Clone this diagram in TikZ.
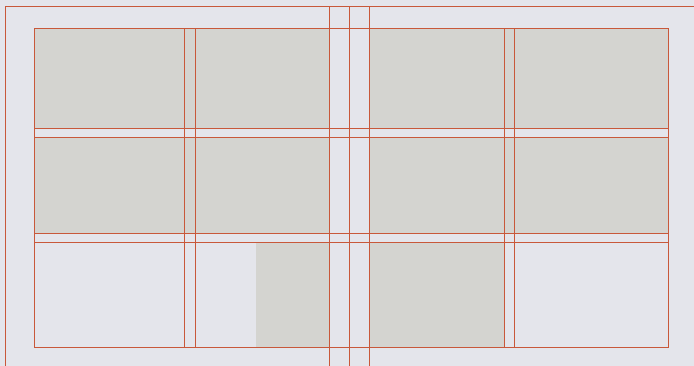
\documentclass[tikz,border=0pt]{standalone}
\definecolor{paper}{RGB}{228,229,235}
\definecolor{cellgray}{RGB}{212,212,208}
\definecolor{gridred}{RGB}{200,88,58}
\tikzset{
  linefill/.style={fill=gridred, draw=none},
  cell/.style={fill=cellgray, draw=none}
}
\begin{document}
\begin{tikzpicture}[x=1pt,y=-1pt]
\useasboundingbox (0,0) rectangle (694,366);
\fill[paper] (0,0) rectangle (694,366);
% gray cells
\fill[cell] (34,28) rectangle (329,128);
\fill[cell] (369,28) rectangle (668,128);
\fill[cell] (34,137) rectangle (329,233);
\fill[cell] (369,137) rectangle (668,233);
\fill[cell] (256,242) rectangle (329,347);
\fill[cell] (369,242) rectangle (504,347);
% outer frame lines
\fill[linefill] (4.8,5.8) rectangle (6.2,366);
\fill[linefill] (4.8,5.8) rectangle (694,7.2);
% inner grid verticals
\foreach \x in {34.5,184.5,195.5,504.5,514.5,668.5}
  \fill[linefill] (\x-0.7,27.8) rectangle (\x+0.7,348.2);
% central gutter verticals
\foreach \x in {329.5,349.5,369.5}
  \fill[linefill] (\x-0.7,6) rectangle (\x+0.7,366);
% horizontals
\foreach \y in {28.5,128.5,137.5,233.5,242.5,347.5}
  \fill[linefill] (33.8,\y-0.7) rectangle (669.2,\y+0.7);
\end{tikzpicture}
\end{document}
